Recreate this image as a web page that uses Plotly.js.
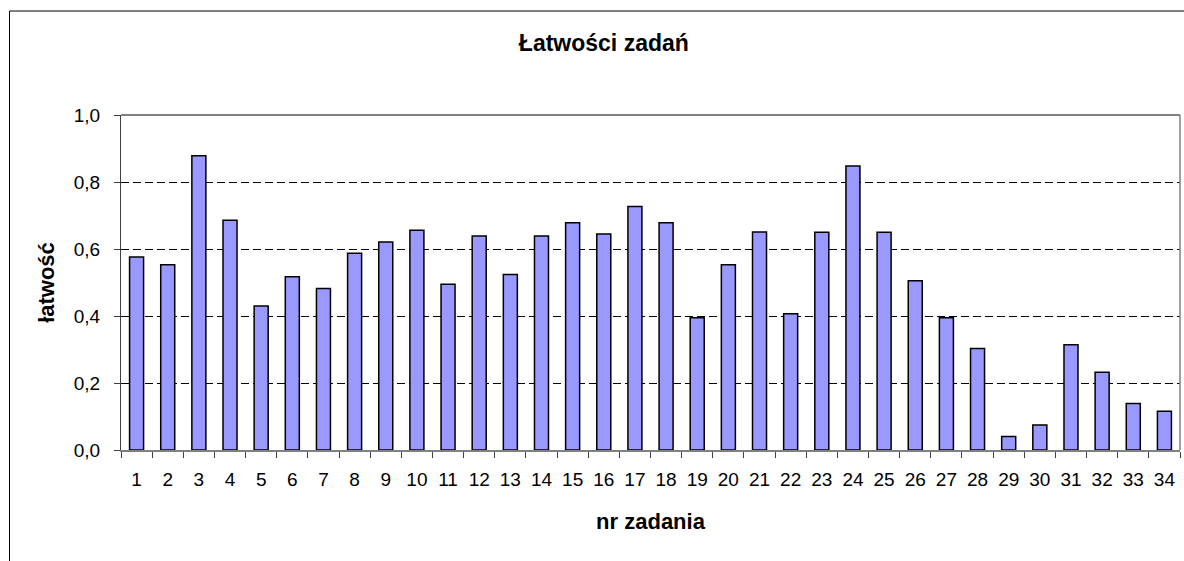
<!DOCTYPE html>
<html>
<head>
<meta charset="utf-8">
<script src="https://cdn.plot.ly/plotly-3.0.1.min.js"></script>
<style>html,body{margin:0;padding:0;background:#fff;}#chart{width:1184px;height:561px;}</style>
</head>
<body>
<div id="chart"></div>
<script>
const categories = ['1','2','3','4','5','6','7','8','9','10','11','12','13','14','15','16','17','18','19','20','21','22','23','24','25','26','27','28','29','30','31','32','33','34'];
const easiness = [0.576,0.553,0.878,0.686,0.430,0.517,0.482,0.587,0.621,0.656,0.495,0.639,0.524,0.639,0.678,0.645,0.727,0.678,0.395,0.553,0.651,0.407,0.650,0.848,0.650,0.505,0.395,0.303,0.040,0.075,0.314,0.232,0.139,0.116];
const yTickVals = [0,0.2,0.4,0.6,0.8,1.0];
const chartTitle = 'Łatwości zadań';
const xTitle = 'nr zadania';
const yTitle = 'łatwość';

const FONT = 'Liberation Sans, Arial, sans-serif';
const L = 121, R = 4, T = 115, B = 111, W = 1184, H = 561;
const pw = W - L - R, ph = H - T - B;
const px = v => (v - L) / pw;
const py = v => (H - B - v) / ph;

const trace = {
  type: 'bar',
  x: categories,
  y: easiness,
  marker: {color: '#9999FF', line: {color: '#000000', width: 1.5}},
  hoverinfo: 'x+y'
};

const layout = {
  width: W, height: H,
  margin: {l: L, r: R, t: T, b: B, pad: 0},
  paper_bgcolor: '#ffffff',
  plot_bgcolor: '#ffffff',
  separators: ', ',
  bargap: 0.55,
  showlegend: false,
  font: {family: FONT, size: 19, color: '#000'},
  title: {
    text: chartTitle,
    font: {family: FONT, size: 23, color: '#000', weight: 'bold'},
    xref: 'container', x: 0.51, xanchor: 'center',
    yref: 'container', y: 1 - 43/561, yanchor: 'middle'
  },
  xaxis: {
    type: 'category',
    tickson: 'boundaries',
    ticks: 'outside', ticklen: 6, tickcolor: '#404040', tickwidth: 1,
    showline: true, linecolor: '#808080', linewidth: 1.5,
    showgrid: false,
    tickfont: {family: FONT, size: 19, color: '#000'},
    ticklabelstandoff: 12,
    title: {text: xTitle, font: {family: FONT, size: 22, color: '#000', weight: 'bold'}, standoff: 24}
  },
  yaxis: {
    range: [0, 1],
    tickvals: yTickVals,
    tickformat: '.1f',
    ticks: 'outside', ticklen: 6, tickcolor: '#404040', tickwidth: 1,
    showline: true, linecolor: '#404040', linewidth: 1,
    showgrid: true, gridcolor: '#000000', gridwidth: 1, griddash: '8px,4px',
    zeroline: false,
    tickfont: {family: FONT, size: 19, color: '#000'},
    ticklabelstandoff: 10,
    title: {text: yTitle, font: {family: FONT, size: 22, color: '#000', weight: 'bold'}, standoff: 13}
  },
  shapes: [
    {type: 'line', xref: 'paper', yref: 'paper', x0: 0, x1: 1, y0: 1, y1: 1, line: {color: '#808080', width: 2}},
    {type: 'line', xref: 'paper', yref: 'paper', x0: 1, x1: 1, y0: 0, y1: 1, line: {color: '#808080', width: 1.5}},
    {type: 'line', xref: 'paper', yref: 'paper', x0: px(9.5), x1: px(1200), y0: py(11), y1: py(11), line: {color: '#000', width: 1}},
    {type: 'line', xref: 'paper', yref: 'paper', x0: px(9.5), x1: px(9.5), y0: py(11), y1: py(600), line: {color: '#000', width: 1}}
  ]
};

Plotly.newPlot('chart', [trace], layout, {displayModeBar: false, staticPlot: true});
</script>
</body>
</html>
